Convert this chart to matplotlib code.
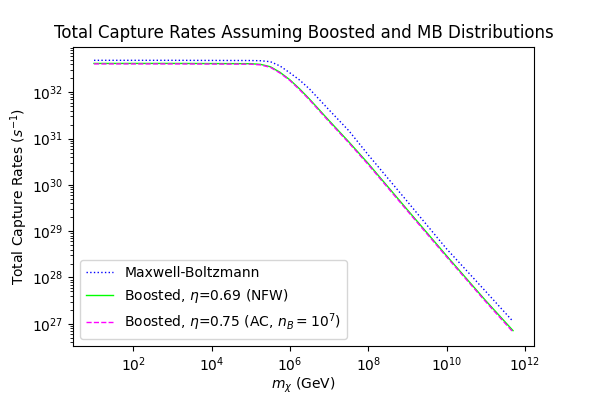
import numpy as np
import matplotlib
matplotlib.use("Agg")
import matplotlib.pyplot as plt

# dark matter mass (GeV)
mass = [1e1, 1e3, 1e5, 1.8e5, 3.2e5, 5.6e5, 1e6, 1.8e6, 3.2e6, 1e7, 3.2e7,
        1e8, 1e9, 1e10, 1e11, 5e11]

# total capture rates (s^-1)
rate_mb = [4.9e32, 4.9e32, 4.85e32, 4.8e32, 4.57e32, 3.7e32, 2.63e32, 1.82e32,
           1.17e32, 4.17e31, 1.48e31, 4.47e30, 4.37e29, 4.17e28, 5.0e27, 1.12e27]
rate_nfw = [4.2e32, 4.2e32, 4.15e32, 4.0e32, 3.55e32, 2.7e32, 1.86e32, 1.17e32,
            7.08e31, 2.45e31, 8.5e30, 2.9e30, 2.9e29, 2.95e28, 3.16e27, 7.1e26]
rate_ac = [4.1e32, 4.1e32, 4.05e32, 3.9e32, 3.45e32, 2.6e32, 1.8e32, 1.12e32,
           6.8e31, 2.33e31, 8.1e30, 2.75e30, 2.75e29, 2.8e28, 3.0e27, 6.6e26]

fig = plt.figure(figsize=(5.94, 3.96), dpi=100)
ax = fig.add_axes([0.123, 0.127, 0.776, 0.755])

ax.loglog(mass, rate_mb, ":", color="blue", lw=1, label="Maxwell-Boltzmann")
ax.loglog(mass, rate_nfw, "-", color="lime", lw=1, label=r"Boosted, $\eta$=0.69 (NFW)")
ax.loglog(mass, rate_ac, "--", color="magenta", lw=1,
          label=r"Boosted, $\eta$=0.75 (AC, $n_B = 10^7$)")

ax.set_title("Total Capture Rates Assuming Boosted and MB Distributions")
ax.set_xlabel(r"$m_\chi$ (GeV)", labelpad=1)
ax.set_ylabel(r"Total Capture Rates ($s^{-1}$)", labelpad=1)
ax.legend(loc="lower left")

fig.savefig("out.png", dpi=100)
